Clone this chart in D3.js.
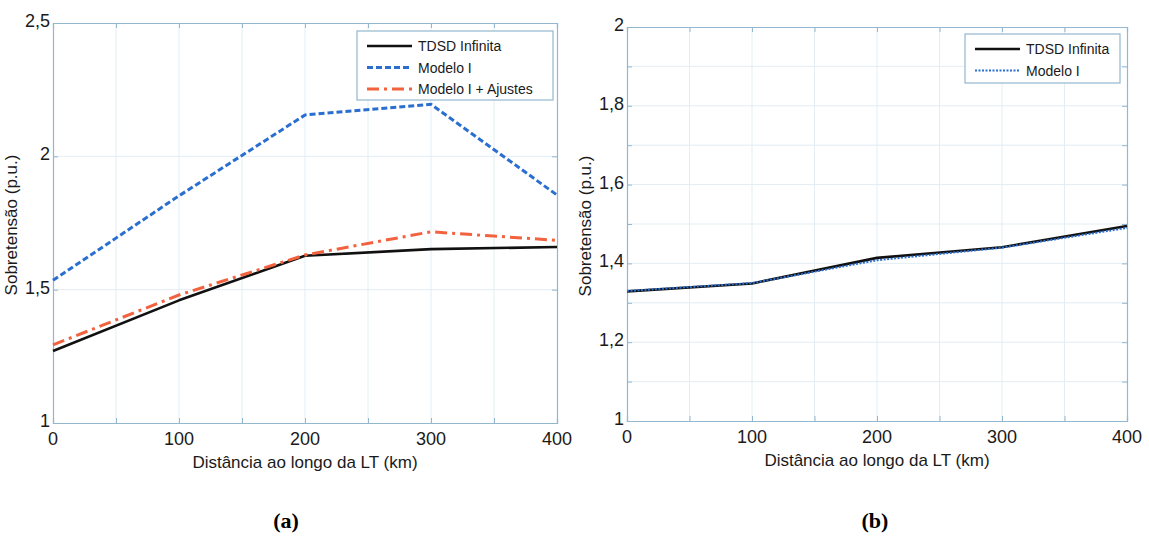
<!DOCTYPE html>
<html>
<head>
<meta charset="utf-8">
<script src="https://cdn.jsdelivr.net/npm/d3@7/dist/d3.min.js"></script>
<style>
  html, body { margin: 0; padding: 0; background: #fff; }
  svg { display: block; }
  text { font-family: "Liberation Sans", Arial, sans-serif; fill: #1a1a1a; }
  text.caption { font-family: "Liberation Serif", "Times New Roman", serif; font-weight: bold; fill: #000; }
</style>
</head>
<body>
<svg id="fig" width="1149" height="544"></svg>
<script>
// Distance along the line (km)
const distances = [0, 100, 200, 300, 400];

// Panel (a): overvoltage in p.u.
const aTDSD = [1.27, 1.46, 1.627, 1.652, 1.66];
const aModelo = [1.535, 1.852, 2.155, 2.195, 1.855];
const aAjustes = [1.293, 1.48, 1.63, 1.717, 1.685];

// Panel (b): overvoltage in p.u.
const bTDSD = [1.329, 1.349, 1.414, 1.441, 1.495];
const bModelo = [1.33, 1.35, 1.408, 1.44, 1.49];

const xTicks = [0, 100, 200, 300, 400];
const aYTicks = [1, 1.5, 2, 2.5];
const bYTicks = [1, 1.2, 1.4, 1.6, 1.8, 2];
const bYGrid = [1.1, 1.2, 1.3, 1.4, 1.5, 1.6, 1.7, 1.8, 1.9];
const xGrid = [50, 100, 150, 200, 250, 300, 350];

const fmt = v => String(v).replace(".", ",");

const svg = d3.select("#fig");
const axisColor = "#93b7cf";
const gridColor = "#e3edf4";

function panel(opt) {
  const g = svg.append("g");
  const x = d3.scaleLinear().domain([0, 400]).range([opt.left, opt.right]);
  const y = d3.scaleLinear().domain(opt.yDomain).range([opt.bottom, opt.top]);

  // grid
  g.selectAll(".vg").data(xGrid).join("line")
    .attr("x1", d => x(d)).attr("x2", d => x(d))
    .attr("y1", opt.top).attr("y2", opt.bottom)
    .attr("stroke", gridColor).attr("stroke-width", 1);
  g.selectAll(".hg").data(opt.yGrid).join("line")
    .attr("x1", opt.left).attr("x2", opt.right)
    .attr("y1", d => y(d)).attr("y2", d => y(d))
    .attr("stroke", gridColor).attr("stroke-width", 1);

  // axes box with inward ticks
  const ax = g.append("g").attr("transform", `translate(0,${opt.bottom})`)
    .call(d3.axisBottom(x).tickValues(opt.xTickMarks).tickSize(-5).tickFormat(""));
  const axT = g.append("g").attr("transform", `translate(0,${opt.top})`)
    .call(d3.axisTop(x).tickValues(opt.xTickMarks).tickSize(-5).tickFormat(""));
  const ayL = g.append("g").attr("transform", `translate(${opt.left},0)`)
    .call(d3.axisLeft(y).tickValues(opt.yTickMarks).tickSize(-5).tickFormat(""));
  const ayR = g.append("g").attr("transform", `translate(${opt.right},0)`)
    .call(d3.axisRight(y).tickValues(opt.yTickMarks).tickSize(-5).tickFormat(""));
  [ax, axT, ayL, ayR].forEach(a => {
    a.select(".domain").attr("stroke", axisColor).attr("stroke-width", 1.2);
    a.selectAll(".tick line").attr("stroke", axisColor);
  });

  // tick labels
  g.selectAll(".xl").data(xTicks).join("text")
    .attr("x", d => x(d)).attr("y", opt.bottom + 22)
    .attr("text-anchor", "middle").attr("font-size", 18)
    .text(d => d);
  g.selectAll(".yl").data(opt.yTicks).join("text")
    .attr("x", opt.left - 3).attr("y", d => y(d) + 4)
    .attr("text-anchor", "end").attr("font-size", 18)
    .text(fmt);

  // axis titles
  g.append("text")
    .attr("x", (opt.left + opt.right) / 2).attr("y", opt.bottom + 45)
    .attr("text-anchor", "middle").attr("font-size", 17)
    .text("Distância ao longo da LT (km)");
  g.append("text")
    .attr("transform", `translate(${opt.left - 36},${(opt.top + opt.bottom) / 2 + 2}) rotate(-90)`)
    .attr("text-anchor", "middle").attr("font-size", 17)
    .text("Sobretensão (p.u.)");

  // series
  const line = d3.line().x((d, i) => x(distances[i])).y(d => y(d));
  opt.series.forEach(s => {
    g.append("path").datum(s.values)
      .attr("d", line).attr("fill", "none")
      .attr("stroke", s.color).attr("stroke-width", s.width)
      .attr("stroke-dasharray", s.dash || null)
      .attr("stroke-linejoin", "round");
  });

  // legend
  const lg = g.append("g");
  lg.append("rect")
    .attr("x", opt.legend.x).attr("y", opt.legend.y)
    .attr("width", opt.legend.w).attr("height", opt.legend.h)
    .attr("fill", "#fff").attr("stroke", axisColor).attr("stroke-width", 1.2);
  opt.series.forEach((s, i) => {
    const yy = opt.legend.y + 15 + i * 21.5;
    lg.append("line")
      .attr("x1", opt.legend.x + 10).attr("x2", opt.legend.x + 55)
      .attr("y1", yy).attr("y2", yy)
      .attr("stroke", s.color).attr("stroke-width", s.width)
      .attr("stroke-dasharray", s.dash || null);
    lg.append("text")
      .attr("x", opt.legend.x + 61).attr("y", yy + 5)
      .attr("font-size", 14)
      .text(s.name);
  });

  // panel caption
  svg.append("text")
    .attr("class", "caption")
    .attr("x", opt.caption.x).attr("y", opt.caption.y)
    .attr("text-anchor", "middle")
    .attr("font-size", 22)
    .text(opt.caption.text);
}

panel({
  left: 53, right: 557, top: 23, bottom: 423,
  yDomain: [1, 2.5],
  yTicks: aYTicks, yGrid: [1.5, 2], yTickMarks: aYTicks,
  xTickMarks: [0, 50, 100, 150, 200, 250, 300, 350, 400],
  series: [
    { name: "TDSD Infinita", values: aTDSD, color: "#111", width: 2.6 },
    { name: "Modelo I", values: aModelo, color: "#2a6fd0", width: 3, dash: "6,3" },
    { name: "Modelo I + Ajustes", values: aAjustes, color: "#f2623e", width: 3, dash: "12,5,3,5" }
  ],
  legend: { x: 357, y: 31, w: 196, h: 69 },
  caption: { x: 286, y: 528, text: "(a)" }
});

panel({
  left: 627, right: 1127, top: 27, bottom: 421,
  yDomain: [1, 2],
  yTicks: bYTicks, yGrid: bYGrid, yTickMarks: [1, 1.1, 1.2, 1.3, 1.4, 1.5, 1.6, 1.7, 1.8, 1.9, 2],
  xTickMarks: [0, 50, 100, 150, 200, 250, 300, 350, 400],
  series: [
    { name: "TDSD Infinita", values: bTDSD, color: "#111", width: 2.6 },
    { name: "Modelo I", values: bModelo, color: "#2a6fd0", width: 2, dash: "2,1.5" }
  ],
  legend: { x: 965, y: 34, w: 155, h: 49 },
  caption: { x: 875, y: 528, text: "(b)" }
});
</script>
</body>
</html>
